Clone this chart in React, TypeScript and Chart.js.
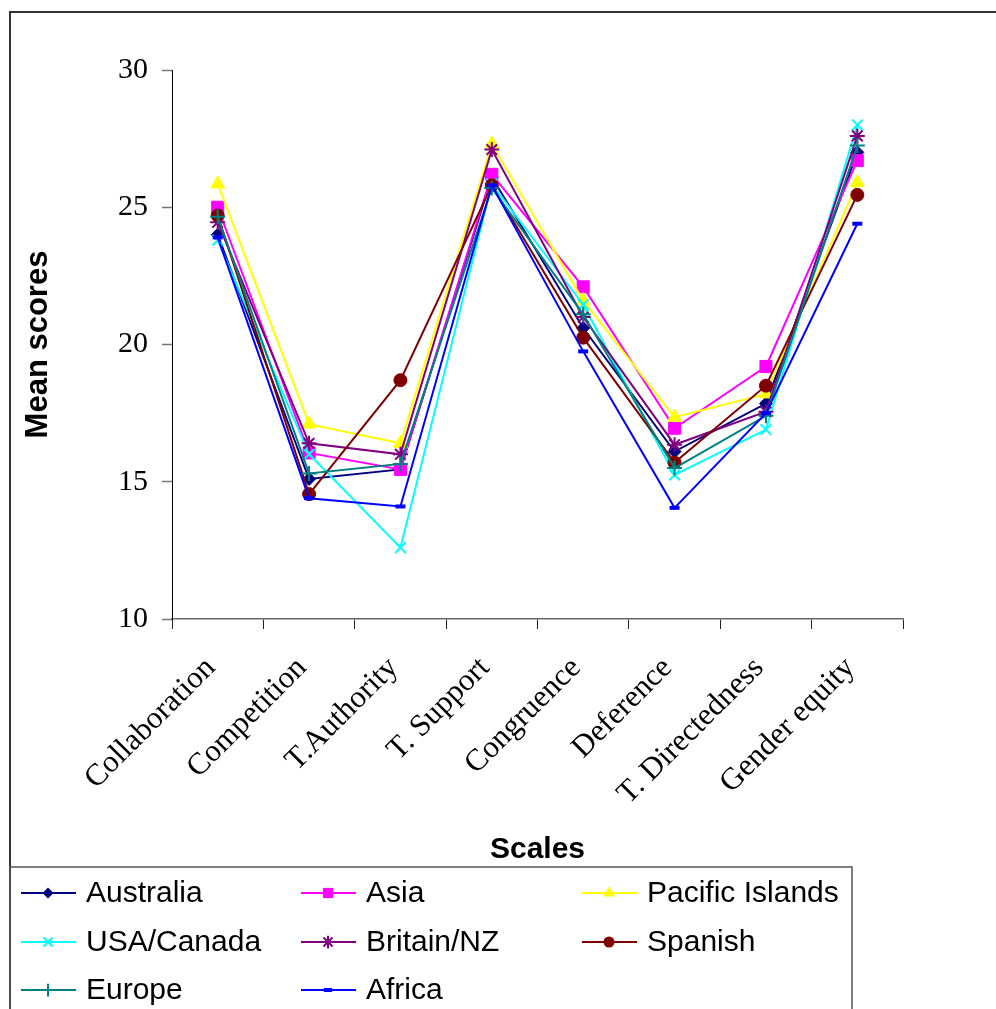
import React, { useEffect, useRef } from 'react';
import { Chart, registerables } from 'chart.js';

Chart.register(...registerables);

// Scale names along the x axis
const categories = [
  'Collaboration',
  'Competition',
  'T.Authority',
  'T. Support',
  'Congruence',
  'Deference',
  'T. Directedness',
  'Gender equity',
];

// Mean scores per region
const australia = [24.0, 15.1, 15.45, 26.1, 20.6, 16.1, 17.85, 27.0];
const asia = [25.0, 16.05, 15.45, 26.2, 22.1, 16.95, 19.2, 26.7];
const pacificIslands = [25.85, 17.1, 16.4, 27.3, 21.6, 17.35, 18.2, 25.9];
const usaCanada = [23.8, 16.0, 12.6, 25.85, 21.45, 15.25, 16.9, 28.0];
const britainNZ = [24.45, 16.4, 16.0, 27.1, 21.0, 16.35, 17.55, 27.6];
const spanish = [24.7, 14.55, 18.7, 25.8, 20.25, 15.7, 18.5, 25.45];
const europe = [24.65, 15.3, 15.65, 25.7, 21.1, 15.5, 17.4, 27.25];
const africa = [23.9, 14.4, 14.1, 25.8, 19.75, 14.05, 17.5, 24.4];

const seriesNames = [
  'Australia',
  'Asia',
  'Pacific Islands',
  'USA/Canada',
  'Britain/NZ',
  'Spanish',
  'Europe',
  'Africa',
];
const seriesData = [australia, asia, pacificIslands, usaCanada, britainNZ, spanish, europe, africa];
const seriesColors = ['#000080', '#FF00FF', '#FFFF00', '#00FFFF', '#800080', '#800000', '#008080', '#0000FF'];
const seriesMarkers = ['rectRot', 'rect', 'triangle', 'crossRot', 'star', 'circle', 'cross', 'line'];
const markerRadius = [6.5, 8.5, 8, 7.5, 7.5, 6.5, 7.5, 5];
const markerBorder = [1, 1, 1, 2, 2, 1, 2, 4];

// Y axis range
const yMin = 10;
const yMax = 30;
const yStep = 5;

const W = 996;
const H = 1009;
const SERIF = '"Liberation Serif", "Times New Roman", serif';
const SANS = '"Liberation Sans", Arial, sans-serif';

function drawMarker(ctx: CanvasRenderingContext2D, style: string, x: number, y: number, r: number, color: string, bw: number) {
  ctx.save();
  ctx.fillStyle = color;
  ctx.strokeStyle = color;
  ctx.lineWidth = bw;
  ctx.beginPath();
  switch (style) {
    case 'rectRot':
      ctx.moveTo(x, y - r);
      ctx.lineTo(x + r, y);
      ctx.lineTo(x, y + r);
      ctx.lineTo(x - r, y);
      ctx.closePath();
      ctx.fill();
      break;
    case 'rect': {
      const h = r * Math.SQRT1_2;
      ctx.rect(x - h, y - h, 2 * h, 2 * h);
      ctx.fill();
      break;
    }
    case 'triangle': {
      let a = 0;
      ctx.moveTo(x + Math.sin(a) * r, y - Math.cos(a) * r);
      a += (2 * Math.PI) / 3;
      ctx.lineTo(x + Math.sin(a) * r, y - Math.cos(a) * r);
      a += (2 * Math.PI) / 3;
      ctx.lineTo(x + Math.sin(a) * r, y - Math.cos(a) * r);
      ctx.closePath();
      ctx.fill();
      break;
    }
    case 'circle':
      ctx.arc(x, y, r, 0, Math.PI * 2);
      ctx.fill();
      break;
    case 'cross':
      ctx.moveTo(x, y - r);
      ctx.lineTo(x, y + r);
      ctx.moveTo(x - r, y);
      ctx.lineTo(x + r, y);
      ctx.stroke();
      break;
    case 'crossRot': {
      const d = r * Math.SQRT1_2;
      ctx.moveTo(x - d, y - d);
      ctx.lineTo(x + d, y + d);
      ctx.moveTo(x + d, y - d);
      ctx.lineTo(x - d, y + d);
      ctx.stroke();
      break;
    }
    case 'star': {
      const d = r * Math.SQRT1_2;
      ctx.moveTo(x, y - r);
      ctx.lineTo(x, y + r);
      ctx.moveTo(x - r, y);
      ctx.lineTo(x + r, y);
      ctx.moveTo(x - d, y - d);
      ctx.lineTo(x + d, y + d);
      ctx.moveTo(x + d, y - d);
      ctx.lineTo(x - d, y + d);
      ctx.stroke();
      break;
    }
    case 'line':
      ctx.moveTo(x - r, y);
      ctx.lineTo(x + r, y);
      ctx.stroke();
      break;
  }
  ctx.restore();
}

// Outer frame and the boxed legend beneath the plot
const framePlugin = {
  id: 'frameAndLegend',
  afterDraw(chart: Chart) {
    const ctx = chart.ctx;
    ctx.save();
    ctx.strokeStyle = '#333333';
    ctx.lineWidth = 2;
    ctx.beginPath();
    ctx.moveTo(10, H + 5);
    ctx.lineTo(10, 12);
    ctx.lineTo(W + 5, 12);
    ctx.stroke();

    // legend box
    ctx.strokeStyle = '#555555';
    ctx.lineWidth = 1.5;
    ctx.beginPath();
    ctx.moveTo(10, H + 5);
    ctx.lineTo(10, 867);
    ctx.lineTo(852, 867);
    ctx.lineTo(852, H + 5);
    ctx.stroke();

    const colX = [21, 301, 582];
    const rowY = [893, 942, 990];
    ctx.font = `30px ${SANS}`;
    ctx.textBaseline = 'middle';
    ctx.textAlign = 'left';
    seriesNames.forEach((name, i) => {
      const x0 = colX[i % 3];
      const y0 = rowY[Math.floor(i / 3)];
      ctx.strokeStyle = seriesColors[i];
      ctx.lineWidth = 2;
      ctx.beginPath();
      ctx.moveTo(x0, y0);
      ctx.lineTo(x0 + 55, y0);
      ctx.stroke();
      drawMarker(ctx, seriesMarkers[i], x0 + 27, y0, markerRadius[i] * 0.85, seriesColors[i], markerBorder[i]);
      ctx.fillStyle = '#000000';
      ctx.fillText(name, x0 + 65, y0 + 1);
    });
    ctx.restore();
  },
};

export default function App() {
  const canvasRef = useRef<HTMLCanvasElement | null>(null);

  useEffect(() => {
    const canvas = canvasRef.current;
    if (!canvas) return;
    const n = seriesNames.length;
    const chart = new Chart(canvas, {
      type: 'line',
      data: {
        labels: categories,
        datasets: seriesNames.map((name, i) => ({
          label: name,
          data: seriesData[i],
          borderColor: seriesColors[i],
          backgroundColor: seriesColors[i],
          borderWidth: 2,
          pointStyle: seriesMarkers[i] as any,
          pointRadius: markerRadius[i],
          pointHoverRadius: markerRadius[i],
          pointBorderWidth: markerBorder[i],
          pointBackgroundColor: seriesColors[i],
          pointBorderColor: seriesColors[i],
          tension: 0,
          fill: false,
          order: n - 1 - i,
        })),
      },
      options: {
        responsive: false,
        animation: false,
        devicePixelRatio: 1,
        layout: {
          padding: { left: 10, top: 70, right: 93, bottom: 141 },
        },
        plugins: {
          legend: { display: false },
          tooltip: { enabled: false },
          title: { display: false },
        },
        scales: {
          x: {
            type: 'category',
            offset: true,
            grid: {
              offset: true,
              drawOnChartArea: false,
              drawTicks: true,
              tickLength: 10,
              tickColor: '#222222',
              tickWidth: 1,
            },
            border: { display: true, color: '#666666', width: 1.5 },
            ticks: {
              autoSkip: false,
              minRotation: 45,
              maxRotation: 45,
              padding: 21,
              labelOffset: -7,
              color: '#000000',
              font: { family: SERIF, size: 31 },
            },
            title: {
              display: true,
              text: 'Scales',
              color: '#000000',
              font: { family: SANS, size: 30, weight: 'bold' },
              padding: { top: 0, bottom: 0 },
            },
            afterFit(scale: any) {
              scale.height = 249;
            },
          },
          y: {
            type: 'linear',
            min: yMin,
            max: yMax,
            grid: {
              drawOnChartArea: false,
              drawTicks: true,
              tickLength: 10,
              tickColor: '#777777',
              tickWidth: 1.5,
            },
            border: { display: true, color: '#000000', width: 1 },
            ticks: {
              stepSize: yStep,
              padding: 14,
              color: '#000000',
              font: { family: SERIF, size: 30 },
            },
            title: {
              display: true,
              text: 'Mean scores',
              color: '#000000',
              font: { family: SANS, size: 31, weight: 'bold' },
              padding: { top: 10, bottom: 0 },
            },
            afterFit(scale: any) {
              scale.width = 162;
            },
          },
        },
      },
      plugins: [framePlugin],
    });
    return () => chart.destroy();
  }, []);

  return (
    <div style={{ position: 'fixed', left: 0, top: 0, width: W, height: H, background: '#ffffff' }}>
      <canvas ref={canvasRef} width={W} height={H} style={{ display: 'block', width: W, height: H }} />
    </div>
  );
}
